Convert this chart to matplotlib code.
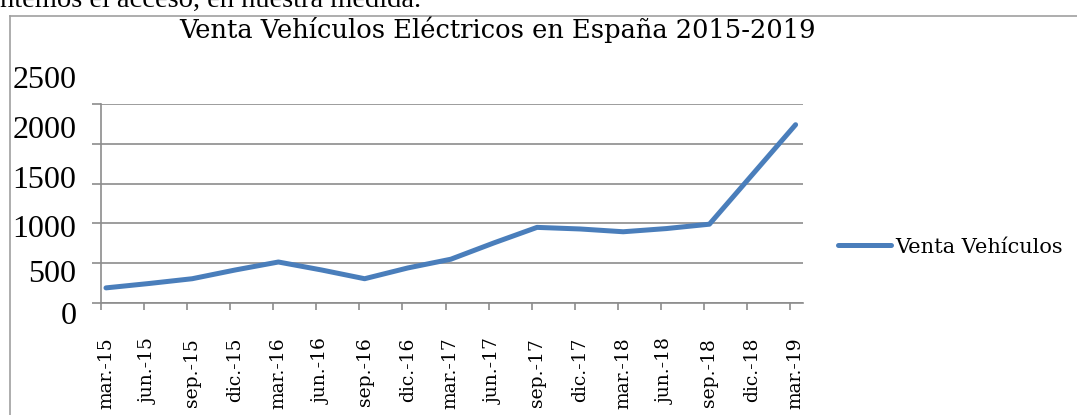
import matplotlib
matplotlib.use("Agg")
import matplotlib.pyplot as plt
from matplotlib.lines import Line2D
from matplotlib.transforms import ScaledTranslation

# Quarterly electric vehicle sales
quarters = ["mar.-15", "jun.-15", "sep.-15", "dic.-15",
            "mar.-16", "jun.-16", "sep.-16", "dic.-16",
            "mar.-17", "jun.-17", "sep.-17", "dic.-17",
            "mar.-18", "jun.-18", "sep.-18", "dic.-18",
            "mar.-19"]
sales = [190, 245, 305, 415, 515, 415, 305, 440, 550, 755,
         950, 930, 895, 935, 990, 1615, 2240]
yticks = [0, 500, 1000, 1500, 2000, 2500]
series_name = "Venta Vehículos"
title = "Venta Vehículos Eléctricos en España 2015-2019"
page_text = "ntemos el acceso, en nuestra medida."

W, H = 1077, 415
grey = "#8c8c8c"
blue = "#4a7ebb"

fig = plt.figure(figsize=(W / 100, H / 100), dpi=100)
fig.patch.set_facecolor("white")

# plot area (pixel box of the original)
left, right, top, bottom = 100.7, 803, 104, 303
ax = fig.add_axes([left / W, 1 - bottom / H, (right - left) / W, (bottom - top) / H])

x = list(range(len(quarters)))
ax.plot(x, sales, color=blue, lw=3.6, solid_joinstyle="round",
        solid_capstyle="round", label=series_name, clip_on=False, zorder=3)

step = 43.1
ax.set_xlim((left - 106) / step, (right - 106) / step)
ax.set_ylim(0, 2500)

for s in ["top", "right"]:
    ax.spines[s].set_visible(False)
for s in ["left", "bottom"]:
    ax.spines[s].set_color(grey)
    ax.spines[s].set_linewidth(1.2)

ax.yaxis.grid(True, color=grey, lw=1.2)
ax.set_axisbelow(True)

# y axis: ticks outward, labels drift like in the original
ax.set_yticks(yticks)
ax.set_yticklabels([str(v) for v in yticks], fontfamily="Liberation Serif", fontsize=23)
ax.tick_params(axis="y", length=6.5, width=1.2, color=grey, pad=11)
label_shift = [10, 8, 3, -7, -17, -27]  # px, positive = down
for lab, dy in zip(ax.get_yticklabels(), label_shift):
    lab.set_transform(lab.get_transform() + ScaledTranslation(0, -dy / 100, fig.dpi_scale_trans))

# x axis: tick marks sit slightly left of the category labels
ax.set_xticks(x)
ax.set_xticklabels(quarters, rotation=90, fontfamily="DejaVu Serif", fontsize=13.5)
ax.tick_params(axis="x", length=0, pad=25)
ax.set_xticks([k + (left - 106) / step for k in x], minor=True)
ax.tick_params(axis="x", which="minor", length=5, width=1.2, color=grey)

fig.text(497.5 / W, 1 - 38 / H, title, ha="center", va="baseline",
         fontfamily="DejaVu Serif", fontsize=18.5)
fig.text(0, 1 - 7.3 / H, page_text, ha="left", va="baseline",
         fontfamily="Liberation Serif", fontsize=20.5)

fig.legend(loc="center left", bbox_to_anchor=(838 / W, 1 - 247 / H), frameon=False,
           prop={"family": "DejaVu Serif", "size": 15}, borderpad=0, borderaxespad=0,
           handlelength=2.55, handletextpad=0.2)

# chart frame (page screenshot)
fig.add_artist(Line2D([10 / W, 10 / W], [0, 1 - 16 / H], color="#a0a0a0", lw=1.2))
fig.add_artist(Line2D([10 / W, 1], [1 - 16 / H, 1 - 16 / H], color="#a0a0a0", lw=1.2))

fig.savefig("out.png", dpi=100)
